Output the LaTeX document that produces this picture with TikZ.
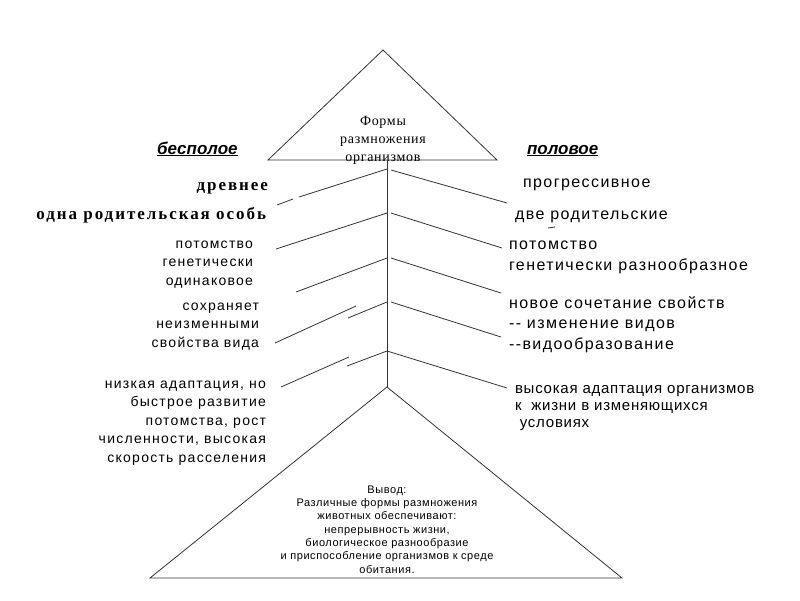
\documentclass[tikz,border=0pt]{standalone}
\usepackage{fontspec}
\setmainfont{Liberation Serif}
\newfontfamily\sansA[LetterSpace=9]{Liberation Sans}
\newfontfamily\sansB[LetterSpace=5]{Liberation Sans}
\newfontfamily\sansC{Liberation Sans}
\newfontfamily\serifA[LetterSpace=11.5]{Liberation Serif}
\newfontfamily\serifB[LetterSpace=5]{Liberation Serif}
\begin{document}
\begin{tikzpicture}[x=1pt,y=-1pt,
  ln/.style={line width=0.8pt,draw=black!80},
  lbl/.style={inner sep=0pt,outer sep=0pt,text=black},
  headlbl/.style={lbl,font=\sansC\bfseries\itshape\fontsize{17}{20}\selectfont},
  leftlbl/.style={lbl,align=right,font=\sansA\fontsize{14}{18.5}\selectfont},
  rightlbl/.style={lbl,align=left,font=\sansA\fontsize{16}{20.5}\selectfont},
  seriflbl/.style={lbl,font=\serifA\bfseries\fontsize{17}{20}\selectfont}]
\fill[white] (0,0) rectangle (800,600);
\useasboundingbox (0,0) rectangle (800,600);

% top triangle
\coordinate (tA) at (383,50);
\coordinate (tL) at (268,160);
\coordinate (tR) at (497,160);
\draw[ln] (tA) -- (tL) -- (tR) -- cycle;
\node[lbl,align=center,anchor=base,font=\serifB\fontsize{14}{18}\selectfont] (title) at (383,161)
  {Формы\\размножения\\организмов};

% spine
\coordinate (sTop) at (387,160);
\coordinate (sBot) at (387,387);
\draw[ln] (sTop) -- (sBot);

% bottom triangle
\coordinate (bL) at (150,578);
\coordinate (bR) at (622,578);
\draw[ln] (sBot) -- (bL) -- (bR) -- cycle;

% branch coordinates
\coordinate (l1) at (387,169); \coordinate (l1a) at (299,197); \coordinate (l1b) at (293,199); \coordinate (l1e) at (277,205);
\coordinate (r1) at (391,170); \coordinate (r1e) at (507,203);
\coordinate (l2) at (387,213); \coordinate (l2e) at (276,249);
\coordinate (r2) at (391,213); \coordinate (r2e) at (502,248);
\coordinate (l3) at (387,258); \coordinate (l3e) at (296,292);
\coordinate (r3) at (391,258); \coordinate (r3e) at (501,293);
\coordinate (l4) at (387,302); \coordinate (l4a) at (348,318); \coordinate (l4b) at (356,306); \coordinate (l4e) at (275,343);
\coordinate (r4) at (391,302); \coordinate (r4e) at (501,337);
\coordinate (l5) at (387,351); \coordinate (l5a) at (347,366); \coordinate (l5b) at (349,357); \coordinate (l5e) at (281,387);
\coordinate (r5) at (387,351); \coordinate (r5e) at (507,388);

\draw[ln] (l1) -- (l1a) (l1b) -- (l1e);
\draw[ln] (r1) -- (r1e);
\draw[ln] (l2) -- (l2e);
\draw[ln] (r2) -- (r2e);
\draw[ln] (l3) -- (l3e);
\draw[ln] (r3) -- (r3e);
\draw[ln] (l4) -- (l4a) (l4b) -- (l4e);
\draw[ln] (r4) -- (r4e);
\draw[ln] (l5) -- (l5a) (l5b) -- (l5e);
\draw[ln] (r5) -- (r5e);

% small tick
\coordinate (tk1) at (548,228); \coordinate (tk2) at (555,227);
\draw[ln] (tk1) -- (tk2);

% headings
\node[headlbl,anchor=base west] (asex) at (157,154) {\underline{бесполое}};
\node[headlbl,anchor=base west] (sex) at (527,154) {\underline{половое}};

% left labels
\node[seriflbl,anchor=base east] (old) at (268,190) {древнее};
\node[seriflbl,anchor=base east] (one) at (266,219) {одна родительская особь};
\node[leftlbl,anchor=base east] (offA) at (253,285) {потомство\\генетически\\одинаковое};
\node[leftlbl,anchor=base east] (keep) at (259,347) {сохраняет\\неизменными\\свойства вида};
\node[leftlbl,anchor=base east] (low) at (266,462) {низкая адаптация, но\\быстрое развитие\\потомства, рост\\численности, высокая\\скорость расселения};

% right labels
\node[rightlbl,anchor=base west] (prog) at (523,187) {прогрессивное};
\node[rightlbl,anchor=base west] (two) at (515,219) {две родительские};
\node[rightlbl,anchor=base west] (offB) at (509,270) {потомство\\генетически разнообразное};
\node[rightlbl,anchor=base west] (newc) at (509,349) {новое сочетание свойств\\-- изменение видов\\--видообразование};
\node[lbl,align=left,anchor=base west,font=\sansB\fontsize{15}{17}\selectfont] (high) at (515,427)
  {высокая адаптация организмов\\к\ \ жизни в изменяющихся\\\ условиях};

% conclusion
\node[lbl,align=center,anchor=base,font=\sansB\fontsize{11}{13.3}\selectfont] (concl) at (387,573)
  {Вывод:\\Различные формы размножения\\животных обеспечивают:\\непрерывность жизни,\\биологическое разнообразие\\и приспособление организмов к среде\\обитания.};
\end{tikzpicture}
\end{document}
